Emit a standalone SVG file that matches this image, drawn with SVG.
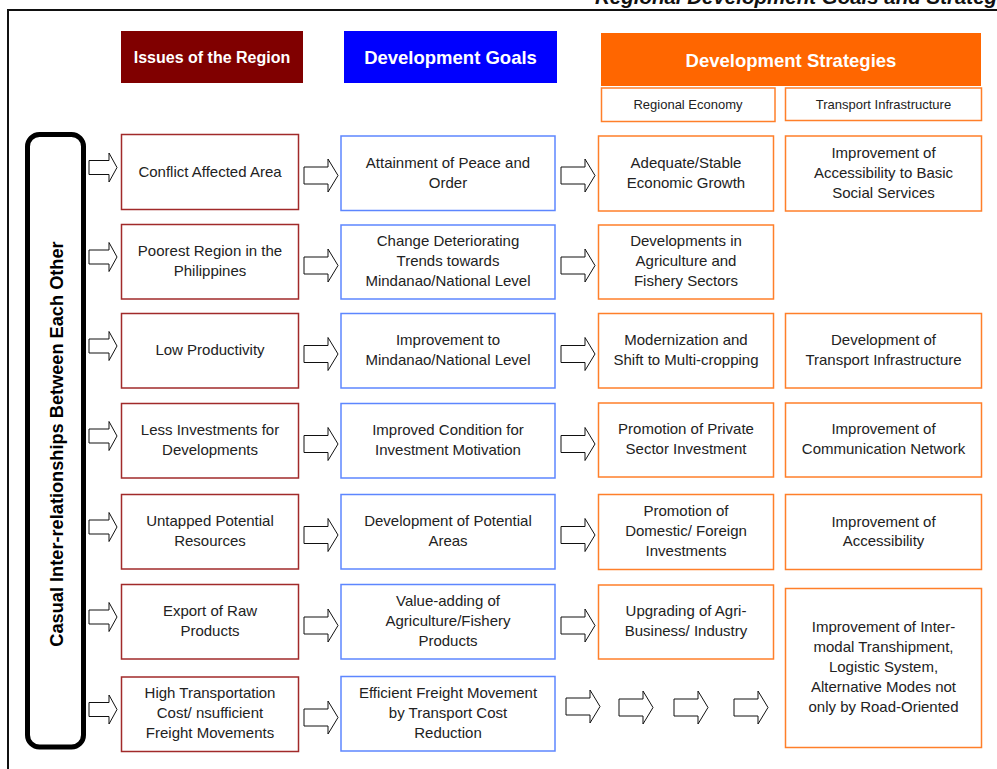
<svg xmlns="http://www.w3.org/2000/svg" xmlns:xlink="http://www.w3.org/1999/xlink" width="997" height="769" viewBox="0 0 997 769">
  <style>
    .frame { stroke: #111; stroke-width: 2; fill: none; }
    .title { font-family: "Liberation Sans", Arial, sans-serif; font-weight: bold; font-style: italic; font-size: 20.5px; fill: #111; }
    .hdr { font-family: "Liberation Sans", Arial, sans-serif; font-weight: bold; fill: #fff; text-anchor: middle; }
    .sub { font-family: "Liberation Sans", Arial, sans-serif; font-size: 13px; fill: #222; text-anchor: middle; }
    .txt { font-family: "Liberation Sans", Arial, sans-serif; font-size: 15px; fill: #222; text-anchor: middle; }
    .side { font-family: "Liberation Sans", Arial, sans-serif; font-weight: bold; font-size: 18.2px; fill: #000; text-anchor: middle; }
    .issue { fill: #fff; stroke: #a12a2a; stroke-width: 1.5; }
    .goal { fill: #fff; stroke: #5d86ff; stroke-width: 1.5; }
    .strat { fill: #fff; stroke: #ff7f2a; stroke-width: 1.5; }
    .arrow { fill: #fff; stroke: #111; stroke-width: 1; }
  </style>
  <defs>
    <!-- block arrows, origin at left end of the shaft, vertical centre -->
    <path id="arrS" d="M0,-7 H20 V-14.5 L28,0 L20,14.5 V7 H0 Z"/>
    <path id="arrM" d="M0,-8.5 H24 V-16.5 L34,0 L24,16.5 V8.5 H0 Z"/>
  </defs>

  <!-- page frame and title -->
  <path class="frame" d="M8,769 V10 H997"/>
  <text class="title" x="595" y="4">Regional Development Goals and Strategies</text>

  <!-- column headers -->
  <g id="hdr-issues">
    <rect x="121" y="31" width="182" height="52" fill="#800000"/>
    <text class="hdr" x="212" y="63" font-size="16">Issues of the Region</text>
  </g>
  <g id="hdr-goals">
    <rect x="344" y="31" width="213" height="52" fill="#0000ff"/>
    <text class="hdr" x="450.5" y="64" font-size="18.5">Development Goals</text>
  </g>
  <g id="hdr-strategies">
    <rect x="601" y="33" width="380" height="53" fill="#ff6600"/>
    <text class="hdr" x="791" y="67" font-size="18.5">Development Strategies</text>
    <rect class="strat" x="601.5" y="88" width="173.5" height="33.5"/>
    <text class="sub" x="688" y="108.5">Regional Economy</text>
    <rect class="strat" x="785.5" y="88" width="196" height="32.5"/>
    <text class="sub" x="883.5" y="108.5">Transport Infrastructure</text>
  </g>

  <!-- side label -->
  <g id="side-label">
    <rect x="27.5" y="134.5" width="56" height="612.5" rx="12" ry="12" fill="#fff" stroke="#000" stroke-width="5"/>
    <text class="side" transform="translate(62.5,444) rotate(-90)">Casual Inter-relationships Between Each Other</text>
  </g>

  <!-- issues column -->
  <g id="issue-1"><rect class="issue" x="121.5" y="134.5" width="177" height="75"/>
    <text class="txt" x="210" y="177">Conflict Affected Area</text></g>
  <g id="issue-2"><rect class="issue" x="121.5" y="224.5" width="177" height="74.5"/>
    <text class="txt" x="210" y="256">Poorest Region in the</text>
    <text class="txt" x="210" y="276">Philippines</text></g>
  <g id="issue-3"><rect class="issue" x="121.5" y="313.5" width="177" height="74.5"/>
    <text class="txt" x="210" y="355">Low Productivity</text></g>
  <g id="issue-4"><rect class="issue" x="121.5" y="403.5" width="177" height="74.5"/>
    <text class="txt" x="210" y="435">Less Investments for</text>
    <text class="txt" x="210" y="455">Developments</text></g>
  <g id="issue-5"><rect class="issue" x="121.5" y="494.5" width="177" height="74.5"/>
    <text class="txt" x="210" y="526">Untapped Potential</text>
    <text class="txt" x="210" y="546">Resources</text></g>
  <g id="issue-6"><rect class="issue" x="121.5" y="584.5" width="177" height="74.5"/>
    <text class="txt" x="210" y="616">Export of Raw</text>
    <text class="txt" x="210" y="636">Products</text></g>
  <g id="issue-7"><rect class="issue" x="121.5" y="677" width="177" height="74.5"/>
    <text class="txt" x="210" y="698">High Transportation</text>
    <text class="txt" x="210" y="718">Cost/ nsufficient</text>
    <text class="txt" x="210" y="738">Freight Movements</text></g>

  <!-- goals column -->
  <g id="goal-1"><rect class="goal" x="341" y="136" width="214" height="74.5"/>
    <text class="txt" x="448" y="168">Attainment of Peace and</text>
    <text class="txt" x="448" y="188">Order</text></g>
  <g id="goal-2"><rect class="goal" x="341" y="225" width="214" height="74"/>
    <text class="txt" x="448" y="246">Change Deteriorating</text>
    <text class="txt" x="448" y="266">Trends towards</text>
    <text class="txt" x="448" y="286">Mindanao/National Level</text></g>
  <g id="goal-3"><rect class="goal" x="341" y="313.5" width="214" height="74.5"/>
    <text class="txt" x="448" y="345">Improvement to</text>
    <text class="txt" x="448" y="365">Mindanao/National Level</text></g>
  <g id="goal-4"><rect class="goal" x="341" y="403.5" width="214" height="74.5"/>
    <text class="txt" x="448" y="435">Improved Condition for</text>
    <text class="txt" x="448" y="455">Investment Motivation</text></g>
  <g id="goal-5"><rect class="goal" x="341" y="494.5" width="214" height="74.5"/>
    <text class="txt" x="448" y="526">Development of Potential</text>
    <text class="txt" x="448" y="546">Areas</text></g>
  <g id="goal-6"><rect class="goal" x="341" y="584.5" width="214" height="74.5"/>
    <text class="txt" x="448" y="606">Value-adding of</text>
    <text class="txt" x="448" y="626">Agriculture/Fishery</text>
    <text class="txt" x="448" y="646">Products</text></g>
  <g id="goal-7"><rect class="goal" x="341" y="676.5" width="214" height="74.5"/>
    <text class="txt" x="448" y="698">Efficient Freight Movement</text>
    <text class="txt" x="448" y="718">by Transport Cost</text>
    <text class="txt" x="448" y="738">Reduction</text></g>

  <!-- regional economy strategies -->
  <g id="econ-1"><rect class="strat" x="598.5" y="136" width="175" height="75"/>
    <text class="txt" x="686" y="168">Adequate/Stable</text>
    <text class="txt" x="686" y="188">Economic Growth</text></g>
  <g id="econ-2"><rect class="strat" x="598.5" y="225" width="175" height="74"/>
    <text class="txt" x="686" y="246">Developments in</text>
    <text class="txt" x="686" y="266">Agriculture and</text>
    <text class="txt" x="686" y="286">Fishery Sectors</text></g>
  <g id="econ-3"><rect class="strat" x="598.5" y="313.5" width="175" height="74.5"/>
    <text class="txt" x="686" y="345">Modernization and</text>
    <text class="txt" x="686" y="365">Shift to Multi-cropping</text></g>
  <g id="econ-4"><rect class="strat" x="598.5" y="403" width="175" height="74"/>
    <text class="txt" x="686" y="434">Promotion of Private</text>
    <text class="txt" x="686" y="454">Sector Investment</text></g>
  <g id="econ-5"><rect class="strat" x="598.5" y="494.5" width="175" height="75"/>
    <text class="txt" x="686" y="516">Promotion of</text>
    <text class="txt" x="686" y="536">Domestic/ Foreign</text>
    <text class="txt" x="686" y="556">Investments</text></g>
  <g id="econ-6"><rect class="strat" x="598.5" y="585" width="175" height="74"/>
    <text class="txt" x="686" y="616">Upgrading of Agri-</text>
    <text class="txt" x="686" y="636">Business/ Industry</text></g>

  <!-- transport infrastructure strategies -->
  <g id="trans-1"><rect class="strat" x="785.5" y="136" width="196" height="75"/>
    <text class="txt" x="883.5" y="158">Improvement of</text>
    <text class="txt" x="883.5" y="178">Accessibility to Basic</text>
    <text class="txt" x="883.5" y="198">Social Services</text></g>
  <g id="trans-3"><rect class="strat" x="785.5" y="313.5" width="196" height="74.5"/>
    <text class="txt" x="883.5" y="345">Development of</text>
    <text class="txt" x="883.5" y="365">Transport Infrastructure</text></g>
  <g id="trans-4"><rect class="strat" x="785.5" y="403" width="196" height="74"/>
    <text class="txt" x="883.5" y="434">Improvement of</text>
    <text class="txt" x="883.5" y="454">Communication Network</text></g>
  <g id="trans-5"><rect class="strat" x="785.5" y="494.5" width="196" height="75"/>
    <text class="txt" x="883.5" y="527">Improvement of</text>
    <text class="txt" x="883.5" y="546">Accessibility</text></g>
  <g id="trans-6"><rect class="strat" x="785.5" y="588.5" width="196" height="159"/>
    <text class="txt" x="883.5" y="632">Improvement of Inter-</text>
    <text class="txt" x="883.5" y="652">modal Transhipment,</text>
    <text class="txt" x="883.5" y="672">Logistic System,</text>
    <text class="txt" x="883.5" y="692">Alternative Modes not</text>
    <text class="txt" x="883.5" y="712">only by Road-Oriented</text></g>

  <!-- connectors -->
  <g id="connectors" class="arrow">
    <use xlink:href="#arrS" x="89" y="167.5"/>
    <use xlink:href="#arrS" x="89" y="257"/>
    <use xlink:href="#arrS" x="89" y="346"/>
    <use xlink:href="#arrS" x="89" y="436"/>
    <use xlink:href="#arrS" x="89" y="527"/>
    <use xlink:href="#arrS" x="89" y="617"/>
    <use xlink:href="#arrS" x="89" y="709.5"/>

    <use xlink:href="#arrM" x="304" y="175.5"/>
    <use xlink:href="#arrM" x="304" y="265.5"/>
    <use xlink:href="#arrM" x="304" y="354"/>
    <use xlink:href="#arrM" x="304" y="444"/>
    <use xlink:href="#arrM" x="304" y="535"/>
    <use xlink:href="#arrM" x="304" y="625.5"/>
    <use xlink:href="#arrM" x="304" y="717.5"/>

    <use xlink:href="#arrM" x="561" y="175.5"/>
    <use xlink:href="#arrM" x="561" y="265.5"/>
    <use xlink:href="#arrM" x="561" y="354"/>
    <use xlink:href="#arrM" x="561" y="444"/>
    <use xlink:href="#arrM" x="561" y="535"/>
    <use xlink:href="#arrM" x="561" y="625.5"/>

    <use xlink:href="#arrM" x="566" y="706.5"/>
    <use xlink:href="#arrM" x="619" y="707.5"/>
    <use xlink:href="#arrM" x="674" y="707.5"/>
    <use xlink:href="#arrM" x="734" y="707.5"/>
  </g>
</svg>
